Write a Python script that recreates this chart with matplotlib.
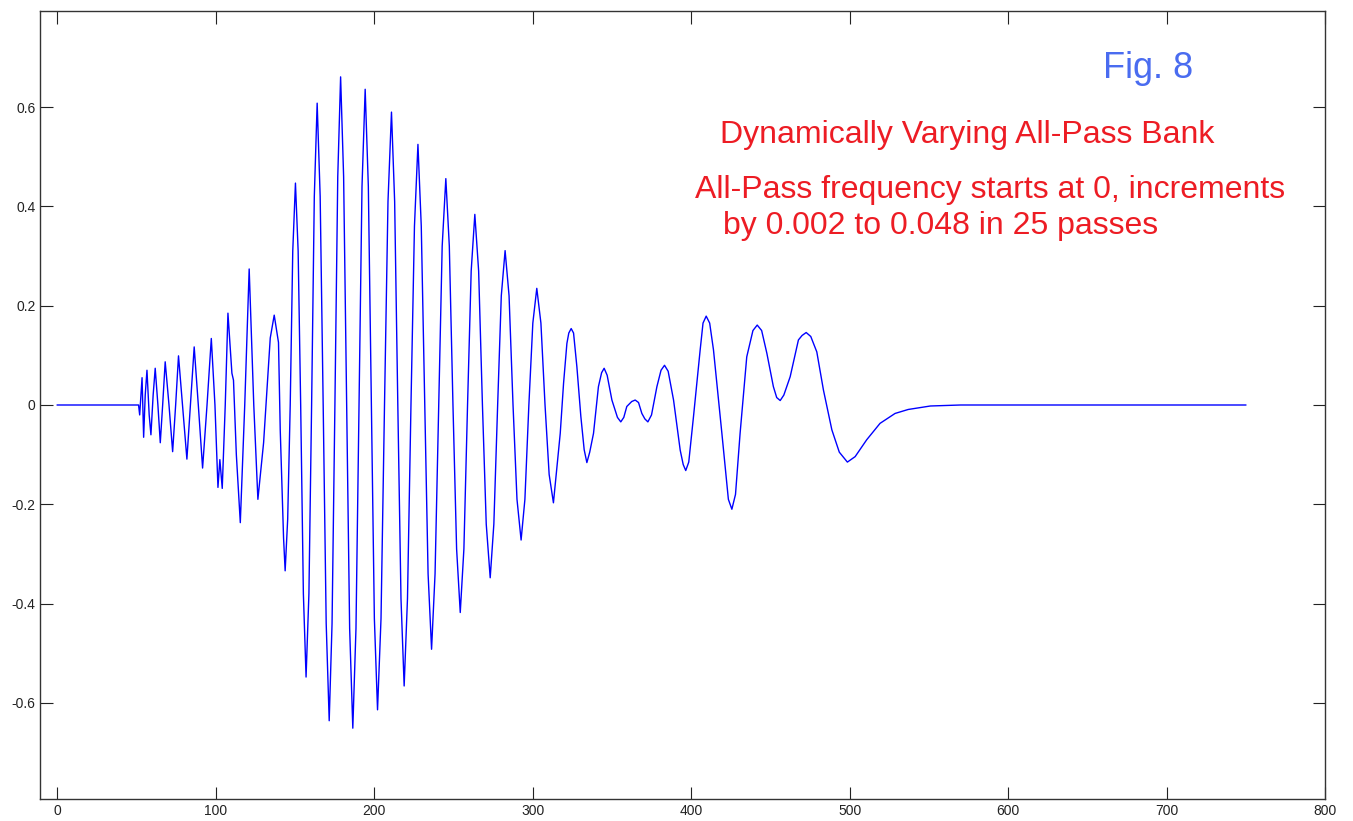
import matplotlib.pyplot as plt

# Data: (sample index, output amplitude)
onset = [(0, 0), (51, 0), (51.3, 0), (52, -0.02), (53.5, 0.055), (54.5, -0.065),
         (55.5, 0.02), (56.6, 0.07), (58, -0.02), (59.1, -0.06), (60.5, 0.02),
         (61.8, 0.074), (63.5, 0.0), (65, -0.076), (66.5, 0.0), (68.1, 0.087),
         (70.5, 0.0), (72.8, -0.094), (74.7, 0.0), (76.5, 0.099), (79, 0.0),
         (81.8, -0.109), (84, 0.0), (86.4, 0.117), (89, 0.0), (91.7, -0.127),
         (94.5, 0.0), (97.2, 0.134), (99.5, 0.0), (101.4, -0.166), (102.6, -0.11),
         (104.1, -0.168), (106, 0.0), (107.7, 0.185), (110.2, 0.064), (111.2, 0.05),
         (113, -0.1), (115.5, -0.237), (118.3, 0.0), (121.1, 0.274), (124, 0.0),
         (126.6, -0.19), (130.2, -0.076), (132.3, 0.03), (134.4, 0.135),
         (136.9, 0.181), (139.6, 0.126), (140.7, -0.05), (142.8, -0.268)]

burst = [(143.8, -0.334), (145.4, -0.23), (147.0, 0.0), (148.6, 0.31), (150.3, 0.447),
         (152.0, 0.31), (153.6, 0.0), (155.3, -0.38), (157.0, -0.548), (158.8, -0.38),
         (160.5, 0.0), (162.2, 0.42), (164.0, 0.608), (165.9, 0.42), (167.8, 0.0),
         (169.7, -0.44), (171.6, -0.636), (173.4, -0.44), (175.2, 0.0), (177.0, 0.46),
         (178.8, 0.661), (180.7, 0.46), (182.6, 0.0), (184.5, -0.45), (186.5, -0.651),
         (188.5, -0.45), (190.4, 0.0), (192.3, 0.44), (194.3, 0.636), (196.3, 0.44),
         (198.2, 0.0), (200.1, -0.43), (202.1, -0.614), (204.3, -0.43), (206.5, 0.0),
         (208.7, 0.41), (210.9, 0.590), (212.9, 0.41), (214.9, 0.0), (216.9, -0.39),
         (218.9, -0.566), (221.0, -0.39), (223.2, 0.0), (225.4, 0.36), (227.6, 0.525),
         (229.7, 0.36), (231.9, 0.0), (234.0, -0.34), (236.2, -0.492), (238.4, -0.34),
         (240.7, 0.0), (242.9, 0.32), (245.2, 0.456), (247.4, 0.32), (249.7, 0.0),
         (252.0, -0.29), (254.3, -0.418), (256.6, -0.29), (258.9, 0.0), (261.2, 0.27),
         (263.5, 0.384), (265.9, 0.27), (268.3, 0.0), (270.7, -0.24), (273.2, -0.348),
         (275.5, -0.24), (277.9, 0.0), (280.2, 0.22), (282.6, 0.311), (285.1, 0.22),
         (287.6, 0.0), (290.1, -0.19), (292.7, -0.272), (295.1, -0.19), (297.6, 0.0),
         (300.1, 0.165), (302.6, 0.235), (305.2, 0.165), (307.8, 0.0), (310.4, -0.14),
         (313.1, -0.197)]

decay = [(317.4, -0.057), (319.5, 0.044), (321.6, 0.124), (322.8, 0.145), (324.3, 0.154),
         (325.8, 0.145), (327.9, 0.077), (330.4, -0.023), (332.5, -0.09), (334.2, -0.116),
         (336.0, -0.095), (338.4, -0.057), (341.5, 0.037), (343.5, 0.065), (345.1, 0.074),
         (347.0, 0.06), (350.0, 0.010), (353.5, -0.025), (355.6, -0.034), (357.5, -0.025),
         (359.4, -0.003), (362.5, 0.007), (364.7, 0.010), (366.8, 0.005), (368.9, -0.017),
         (370.8, -0.028), (372.7, -0.034), (375.0, -0.02), (378.4, 0.037), (381.0, 0.07),
         (383.2, 0.080), (385.5, 0.068), (388.9, 0.010), (393.1, -0.091), (395.0, -0.12),
         (396.6, -0.132), (398.5, -0.115), (401.5, -0.023), (405.7, 0.111), (407.5, 0.165),
         (409.5, 0.179), (411.7, 0.165), (414.1, 0.111), (419.4, -0.057), (423.5, -0.19),
         (425.7, -0.210), (428.0, -0.18), (430.9, -0.057), (435.1, 0.097), (439.0, 0.15),
         (441.7, 0.161), (444.5, 0.15), (447.8, 0.104), (451.9, 0.037), (454.0, 0.015),
         (456.2, 0.009), (458.5, 0.02), (462.5, 0.057), (467.7, 0.131), (470.0, 0.14),
         (472.6, 0.146), (475.5, 0.138), (479.3, 0.107), (483.5, 0.030), (488.8, -0.050),
         (493.5, -0.095), (498.6, -0.115), (503.5, -0.104), (510.8, -0.070),
         (519.2, -0.037), (528.7, -0.017), (537.0, -0.009), (551.0, -0.002),
         (570.0, 0.0), (750, 0.0)]

x_ticks = [0, 100, 200, 300, 400, 500, 600, 700, 800]
y_ticks = [-0.6, -0.4, -0.2, 0, 0.2, 0.4, 0.6]
y_tick_labels = ["-0.6", "-0.4", "-0.2", "0", "0.2", "0.4", "0.6"]

wave_x = [p[0] for p in onset + burst + decay]
wave_y = [p[1] for p in onset + burst + decay]

plt.rcParams['font.family'] = ['Liberation Sans', 'DejaVu Sans']

fig = plt.figure(figsize=(13.53, 8.21), dpi=100)
ax = fig.add_axes([0.0298, 0.0272, 0.9495, 0.959])

ax.plot(wave_x, wave_y, color='#0000ff', linewidth=1.0)

ax.set_xlim(-10.7, 800)
ax.set_ylim(-0.793, 0.793)
ax.set_xticks(x_ticks)
ax.set_xticklabels([str(t) for t in x_ticks])
ax.set_yticks(y_ticks)
ax.set_yticklabels(y_tick_labels)
ax.tick_params(direction='in', length=9, width=0.8, top=True, right=True,
               labelsize=10, colors='#222222')
for s in ax.spines.values():
    s.set_linewidth(1.0)
    s.set_color('#333333')

# annotations
fig.text(0.8485, 0.917, "Fig. 8", color='#4a6cf0', fontsize=26,
         ha='center', va='center')
fig.text(0.532, 0.8356, "Dynamically Varying All-Pass Bank", color='#ed1c24',
         fontsize=23, ha='left', va='center')
fig.text(0.5137, 0.7686, "All-Pass frequency starts at 0, increments",
         color='#ed1c24', fontsize=23, ha='left', va='center')
fig.text(0.5344, 0.7247, "by 0.002 to 0.048 in 25 passes", color='#ed1c24',
         fontsize=23, ha='left', va='center')

fig.savefig("out.png", dpi=100)
